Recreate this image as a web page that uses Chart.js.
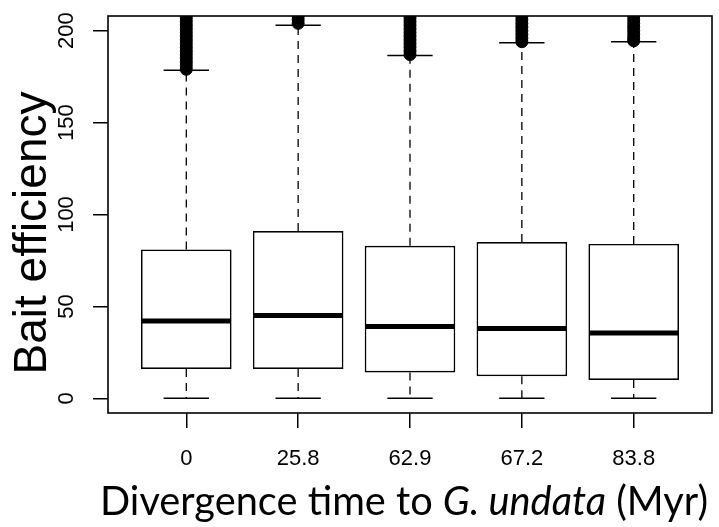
<!DOCTYPE html>
<html>
<head>
<meta charset="utf-8">
<script src="https://cdn.jsdelivr.net/npm/chart.js@4.4.1/dist/chart.umd.min.js"></script>
<style>
  html, body { margin: 0; padding: 0; background: #fff; }
  #wrap { width: 719px; height: 527px; }
</style>
</head>
<body>
<div id="wrap"><canvas id="boxChart" width="719" height="527"></canvas></div>
<script>
// divergence time groups (Myr)
const groups = ['0', '25.8', '62.9', '67.2', '83.8'];

// five-number summaries
const lowerWhisker = [0, 0, 0, 0, 0];
const q1 = [16, 16, 14, 12, 10];
const medians = [42, 45, 39, 38, 35.5];
const q3 = [81, 91, 83, 85, 84];
const upperWhisker = [178.5, 203, 186.5, 193.5, 194];

// outliers (dense column that runs off the top of the plot)
const outliers0 = [179, 181, 183, 185, 187, 189, 191, 193, 195, 197, 199, 201, 203, 205, 207, 209, 211];
const outliers1 = [204, 206, 208, 210];
const outliers2 = [187, 189, 191, 193, 195, 197, 199, 201, 203, 205, 207, 209, 211];
const outliers3 = [194, 196, 198, 200, 202, 204, 206, 208, 210];
const outliers4 = [194.5, 196, 198, 200, 202, 204, 206, 208, 210];
const outliers = [outliers0, outliers1, outliers2, outliers3, outliers4];

const yTicks = [0, 50, 100, 150, 200];

const boxData = groups.map((g, i) => ({ x: i + 1, y: [q1[i], q3[i]] }));
const outlierData = outliers.flatMap((vals, i) => vals.map(v => ({ x: i + 1, y: v })));

const boxExtras = {
    id: 'boxExtras',
    afterDatasetsDraw(chart) {
        const { ctx, chartArea, scales: { x, y } } = chart;
        const bars = chart.getDatasetMeta(0).data;
        ctx.save();
        ctx.beginPath();
        ctx.rect(chartArea.left, chartArea.top, chartArea.right - chartArea.left, chartArea.bottom - chartArea.top);
        ctx.clip();
        ctx.strokeStyle = '#000';
        groups.forEach((g, i) => {
            const cx = x.getPixelForValue(i + 1);
            const half = bars[i].width / 2;
            // whiskers
            ctx.lineWidth = 1.3;
            ctx.setLineDash([8, 6]);
            ctx.beginPath();
            ctx.moveTo(cx, y.getPixelForValue(q3[i]));
            ctx.lineTo(cx, y.getPixelForValue(upperWhisker[i]));
            ctx.moveTo(cx, y.getPixelForValue(q1[i]));
            ctx.lineTo(cx, y.getPixelForValue(lowerWhisker[i]));
            ctx.stroke();
            // staples
            ctx.setLineDash([]);
            ctx.lineWidth = 1.5;
            ctx.beginPath();
            [upperWhisker[i], lowerWhisker[i]].forEach(v => {
                const py = y.getPixelForValue(v);
                ctx.moveTo(cx - half / 2, py);
                ctx.lineTo(cx + half / 2, py);
            });
            ctx.stroke();
            // median
            ctx.lineWidth = 5;
            ctx.beginPath();
            const my = y.getPixelForValue(medians[i]);
            ctx.moveTo(cx - half + 1, my);
            ctx.lineTo(cx + half - 1, my);
            ctx.stroke();
        });
        ctx.restore();
    },
    afterDraw(chart) {
        const { ctx, chartArea } = chart;
        ctx.save();
        // frame
        ctx.strokeStyle = '#000';
        ctx.lineWidth = 1.6;
        ctx.strokeRect(chartArea.left, chartArea.top, chartArea.right - chartArea.left, chartArea.bottom - chartArea.top);

        ctx.fillStyle = '#000';

        // y title
        ctx.save();
        ctx.font = '46px "Liberation Sans", Arial, sans-serif';
        ctx.textAlign = 'center';
        ctx.textBaseline = 'alphabetic';
        ctx.translate(46, 233);
        ctx.rotate(-Math.PI / 2);
        ctx.fillText('Bait efficiency', 0, 0);
        ctx.restore();

        // x title with italic species name
        const parts = [
            { t: 'Divergence time to ', italic: false },
            { t: 'G. undata', italic: true },
            { t: ' (Myr)', italic: false }
        ];
        const fontFor = (p, s) => (p.italic ? 'italic ' : '') + s + 'px Lato, "Open Sans", sans-serif';
        const measure = s => parts.reduce((w, p) => { ctx.font = fontFor(p, s); return w + ctx.measureText(p.t).width; }, 0);
        const size = 36 * 608 / measure(36);
        const total = measure(size);
        let tx = 404 - total / 2;
        ctx.textBaseline = 'alphabetic';
        ctx.textAlign = 'left';
        parts.forEach(p => {
            ctx.font = fontFor(p, size);
            ctx.fillText(p.t, tx, 515);
            tx += ctx.measureText(p.t).width;
        });
        ctx.restore();
    }
};

const tickFont = { family: '"Liberation Sans", Arial, sans-serif', size: 22 };

new Chart(document.getElementById('boxChart').getContext('2d'), {
    type: 'bar',
    data: {
        datasets: [
            {
                type: 'bar',
                data: boxData,
                backgroundColor: '#fff',
                borderColor: '#000',
                borderWidth: 1.7,
                borderSkipped: false,
                barPercentage: 0.81,
                categoryPercentage: 1,
                order: 2
            },
            {
                type: 'scatter',
                data: outlierData,
                pointRadius: 6,
                pointBackgroundColor: '#000',
                pointBorderColor: '#000',
                pointBorderWidth: 1,
                clip: 0,
                order: 1
            }
        ]
    },
    options: {
        responsive: false,
        animation: false,
        layout: { padding: { left: 0, right: 2, top: 16, bottom: 0 } },
        plugins: {
            legend: { display: false },
            tooltip: { enabled: false }
        },
        scales: {
            x: {
                type: 'linear',
                min: 0.3,
                max: 5.7,
                offset: false,
                afterBuildTicks: s => { s.ticks = groups.map((g, i) => ({ value: i + 1 })); },
                afterFit: s => { s.height = 114; s.paddingLeft = 0; s.paddingRight = 0; },
                ticks: {
                    callback: v => groups[v - 1],
                    font: tickFont,
                    color: '#000',
                    padding: 18,
                    autoSkip: false,
                    maxRotation: 0
                },
                grid: { offset: false, drawOnChartArea: false, tickLength: 15, color: '#000', lineWidth: 1.5 },
                border: { display: false }
            },
            y: {
                min: -8,
                max: 208,
                afterBuildTicks: s => { s.ticks = yTicks.map(v => ({ value: v })); },
                afterFit: s => { s.width = 108; s.paddingTop = 0; s.paddingBottom = 0; },
                ticks: {
                    font: tickFont,
                    color: '#000',
                    minRotation: 90,
                    maxRotation: 90,
                    crossAlign: 'center',
                    padding: 8
                },
                grid: { drawOnChartArea: false, tickLength: 15, color: '#000', lineWidth: 1.5 },
                border: { display: false }
            }
        }
    },
    plugins: [boxExtras]
});
</script>
</body>
</html>
